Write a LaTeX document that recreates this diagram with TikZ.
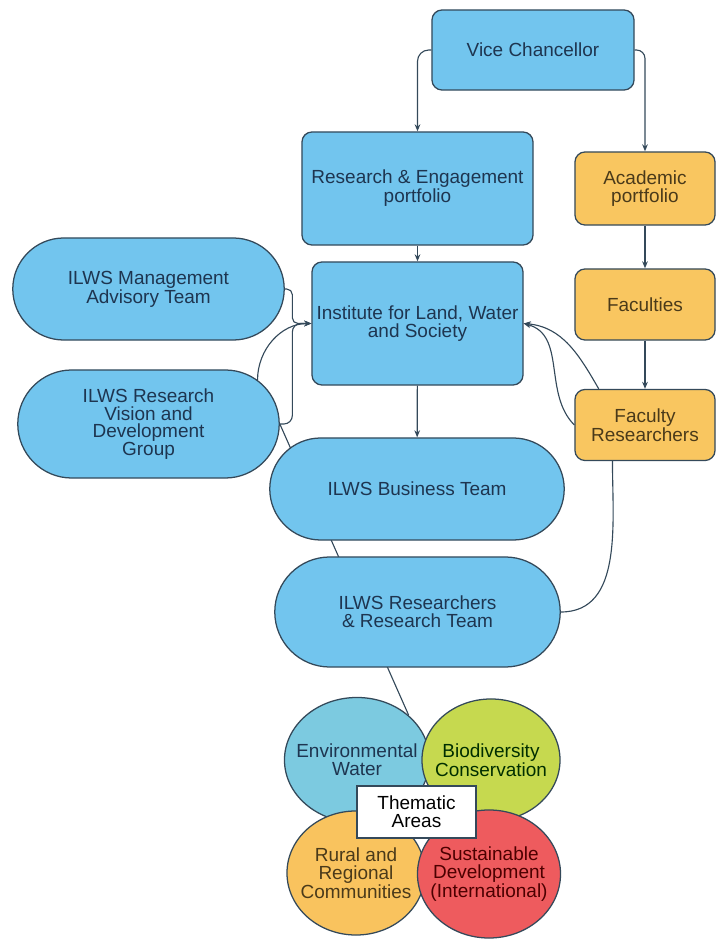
\documentclass[tikz,border=0pt]{standalone}
\usepackage{fontspec}
\setmainfont{Liberation Sans}
\usepackage{tikz}
\usetikzlibrary{shapes.geometric, arrows, arrows.meta, shapes, positioning, calc, backgrounds}

\definecolor{edge}{HTML}{34495A}
\definecolor{navy}{HTML}{1E3550}
\definecolor{boxblue}{HTML}{72C5EE}
\definecolor{boxorange}{HTML}{F9C660}
\definecolor{brownish}{HTML}{4A3A1A}
\definecolor{envblue}{HTML}{7CCAE0}
\definecolor{biogreen}{HTML}{C6D94F}
\definecolor{rurorange}{HTML}{F9C35E}
\definecolor{susred}{HTML}{EE5B5E}

\newcommand\boxfont{\fontsize{13.5}{12.5}\selectfont}

\tikzset{
  box/.style={draw=edge, fill=boxblue, rounded corners=2.5mm, line width=0.9pt,
    text=navy, align=center, font=\boxfont, inner sep=2pt},
  orangebox/.style={box, fill=boxorange, text=brownish},
  pill/.style={box, shape=rounded rectangle, rounded corners=0pt},
  area/.style={draw=edge, ellipse, line width=0.9pt, inner sep=0pt},
  areatext/.style={align=center, font=\boxfont, inner sep=0pt},
  arr/.style={-{Stealth[length=5pt,width=4pt]}, draw=edge, line width=0.8pt},
  link/.style={draw=edge, line width=0.8pt}
}

\begin{document}
\begin{tikzpicture}[x=0.025cm, y=0.025cm]
\useasboundingbox (0,0) rectangle (716,943);

% blue chain
\node (vc) [box, minimum width=5.05cm, minimum height=2cm] at (533,893) {Vice Chancellor};
\node (rep) [box, minimum width=5.775cm, minimum height=2.825cm] at (417.5,754.5) {Research \& Engagement\\portfolio};
\node (inst) [box, minimum width=5.275cm, minimum height=3.075cm] at (417.5,619.5) {Institute for Land, Water\\and Society};

% orange column
\node (acad) [orangebox, minimum width=3.5cm, minimum height=1.825cm] at (645,754.5) {Academic\\portfolio};
\node (fac) [orangebox, minimum width=3.5cm, minimum height=1.775cm] at (645,638.5) {Faculties};
\node (fr) [orangebox, minimum width=3.5cm, minimum height=1.775cm] at (645,518) {Faculty\\Researchers};

% teams
\node (mat) [pill, minimum width=6.925cm, minimum height=2.55cm] at (148.5,654) {ILWS Management\\Advisory Team};
\node (rv) [pill, minimum width=6.675cm, minimum height=2.7cm] at (148.5,519) {ILWS Research\\Vision and\\Development\\Group};
\node (bt) [pill, minimum width=7.5cm, minimum height=2.55cm] at (417,454) {ILWS Business Team};
\node (rt) [pill, minimum width=7.275cm, minimum height=2.75cm] at (417.5,331) {ILWS Researchers\\\& Research Team};

% thematic areas
\node (env) [area, fill=envblue, minimum width=3.625cm, minimum height=3.125cm,
  label={[areatext, text=navy]center:Environmental\\Water}] at (357,183) {};
\node (bio) [area, fill=biogreen, minimum width=3.45cm, minimum height=3.05cm,
  label={[areatext, text=black!70!green!60!black]center:Biodiversity\\Conservation}] at (491,183) {};
\node (rur) [area, fill=rurorange, minimum width=3.45cm, minimum height=3.1cm,
  label={[areatext, text=brownish]center:Rural and\\Regional\\Communities}] at (356,70) {};
\node (sus) [area, fill=susred, minimum width=3.575cm, minimum height=3.2cm,
  label={[areatext, text=red!30!black]center:Sustainable\\Development\\(International)}] at (489,69) {};
\node (thm) [draw=edge, fill=white, line width=0.9pt, align=center, font=\boxfont,
  minimum width=2.975cm, minimum height=1.3cm, inner sep=1pt] at (416.5,131) {Thematic\\Areas};

% arrows
\draw [arr, rounded corners=8pt] (vc.west) -| (rep.north);
\draw [arr, rounded corners=6pt] (vc.east) -| (acad.north);
\draw [arr] (rep) -- (inst);
\draw [arr] (acad) -- (fac);
\draw [arr] (fac) -- (fr);
\draw [arr] (inst) -- (bt);

\coordinate (join) at ($(inst.west)+(-19,0)$);
\draw [arr, rounded corners=4pt] (mat.east) -| (join) -- (inst.west);
\draw [arr, rounded corners=6pt] (rv.east) -| (join) -- (inst.west);
\draw [arr] (rv.22) to[out=90,in=180] (inst.west);

\draw [arr] (fr.west) to[out=135,in=-15] (inst.east);
\draw [arr] (fr.142) to[out=120,in=-5] (inst.east);
\draw [link] (rt.east) to[out=0,in=-90] (fr.228);

\begin{scope}[on background layer]
\draw [link] (rv.east) -- (env.north east);
\end{scope}
\end{tikzpicture}
\end{document}
